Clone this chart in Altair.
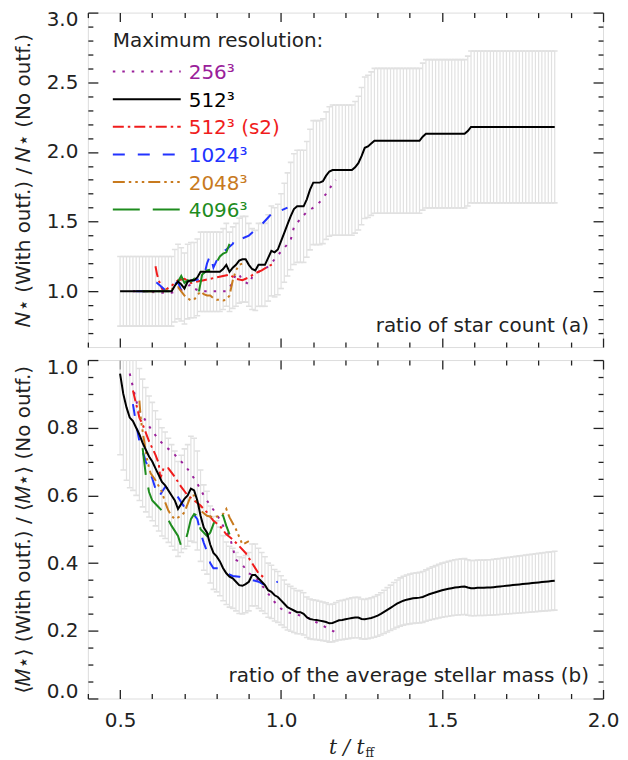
import altair as alt
import numpy as np
import pandas as pd

FONT = "DejaVu Sans"
INK = "#222222"

# ---------------- data ----------------
# sample times of the 512^3 run (also the positions of the grey error bars)
T_GRID = np.round(np.arange(0.50, 1.855, 0.01), 2)

TOP_BLACK = [
    1.00, 1.00, 1.00, 1.00, 1.00, 1.00, 1.00, 1.00, 1.00, 1.00,
    1.00, 1.00, 1.00, 1.00, 1.00, 1.00, 1.00, 1.04, 1.07, 1.05,
    1.02, 1.07, 1.08, 1.08, 1.10, 1.14, 1.14, 1.14, 1.14, 1.14,
    1.14, 1.14, 1.16, 1.19, 1.14, 1.17, 1.19, 1.22, 1.23, 1.23,
    1.19, 1.16, 1.15, 1.19, 1.19, 1.19, 1.24, 1.29, 1.28, 1.30,
    1.36, 1.42, 1.48, 1.54, 1.59, 1.61, 1.61, 1.61, 1.66, 1.73,
    1.78, 1.78, 1.78, 1.79, 1.83, 1.86, 1.87, 1.87, 1.87, 1.87,
    1.87, 1.87, 1.87, 1.89, 1.92, 1.97, 2.03, 2.04, 2.06, 2.08,
    2.08, 2.08, 2.08, 2.08, 2.08, 2.08, 2.08, 2.08, 2.08, 2.08,
    2.08, 2.08, 2.08, 2.08, 2.11, 2.13, 2.13, 2.13, 2.13, 2.13,
    2.13, 2.13, 2.13, 2.13, 2.13, 2.13, 2.13, 2.13, 2.15, 2.18,
    2.18, 2.18, 2.18, 2.18, 2.18, 2.18, 2.18, 2.18, 2.18, 2.18,
    2.18, 2.18, 2.18, 2.18, 2.18, 2.18, 2.18, 2.18, 2.18, 2.18,
    2.18, 2.18, 2.18, 2.18, 2.18, 2.18,
]

BOT_BLACK = [
    0.96, 0.90, 0.86, 0.83, 0.82, 0.80, 0.78, 0.755, 0.735, 0.715,
    0.70, 0.68, 0.66, 0.64, 0.63, 0.615, 0.60, 0.585, 0.56, 0.575,
    0.59, 0.60, 0.62, 0.615, 0.585, 0.54, 0.505, 0.49, 0.455, 0.43,
    0.42, 0.405, 0.385, 0.37, 0.36, 0.355, 0.345, 0.335, 0.333, 0.338,
    0.345, 0.365, 0.365, 0.355, 0.345, 0.335, 0.32, 0.315, 0.305, 0.30,
    0.29, 0.28, 0.27, 0.265, 0.26, 0.255, 0.255, 0.25, 0.24, 0.235,
    0.233, 0.232, 0.23, 0.228, 0.226, 0.222, 0.223, 0.227, 0.231, 0.232,
    0.234, 0.236, 0.238, 0.239, 0.239, 0.235, 0.234, 0.236, 0.238, 0.241,
    0.245, 0.25, 0.256, 0.262, 0.268, 0.274, 0.28, 0.285, 0.289, 0.292,
    0.294, 0.296, 0.297, 0.298, 0.300, 0.304, 0.308, 0.311, 0.314, 0.317,
    0.320, 0.322, 0.324, 0.326, 0.328, 0.329, 0.330, 0.331, 0.328, 0.326,
    0.326, 0.327, 0.327, 0.327, 0.328, 0.328, 0.329, 0.330, 0.331, 0.332,
    0.333, 0.334, 0.335, 0.336, 0.337, 0.338, 0.339, 0.340, 0.341, 0.342,
    0.343, 0.344, 0.345, 0.346, 0.347, 0.348,
]

# --- panel (a): other resolutions
TOP_256_T = [0.54, 0.58, 0.62, 0.66, 0.68, 0.70, 0.72, 0.73, 0.75, 0.78, 0.80, 0.83, 0.85,
             0.86, 0.87, 0.88, 0.90, 0.91, 0.93, 0.95, 0.97, 0.99, 1.01, 1.03, 1.04, 1.06,
             1.08, 1.10, 1.12, 1.14, 1.16, 1.17]
TOP_256_V = [1.00, 1.00, 0.99, 0.99, 1.00, 1.02, 1.05, 1.02, 1.00, 1.00, 1.00, 1.00, 1.06,
             1.13, 1.12, 1.08, 1.05, 1.10, 1.14, 1.16, 1.20, 1.26, 1.31, 1.37, 1.46, 1.52,
             1.57, 1.60, 1.64, 1.70, 1.77, 1.80]

TOP_S2_T = [0.61, 0.615, 0.62, 0.63, 0.635, 0.66, 0.67, 0.68, 0.70, 0.72, 0.74, 0.76, 0.78,
            0.80, 0.82, 0.84, 0.86, 0.88, 0.90, 0.92, 0.94, 0.96, 0.98]
TOP_S2_V = [1.18, 1.12, 1.08, 1.02, 1.00, 1.04, 1.06, 1.08, 1.09, 1.06, 1.07, 1.08, 1.09,
            1.10, 1.11, 1.12, 1.09, 1.08, 1.10, 1.13, 1.15, 1.18, 1.20]

TOP_1024_T = [0.55, 0.58, 0.60, 0.615, 0.625, 0.64, 0.65, 0.67, 0.68, 0.69, 0.70, 0.71, 0.73,
              0.75, 0.76, 0.77, 0.78, 0.79, 0.80, 0.81, 0.83, 0.85, 0.86, 0.88, 0.90, 0.92,
              0.94, 0.96, 0.98, 1.00, 1.02]
TOP_1024_V = [1.00, 1.00, 1.00, 1.06, 1.04, 1.01, 1.00, 1.05, 1.07, 1.00, 1.04, 1.07, 1.08,
              1.09, 1.10, 1.20, 1.26, 1.17, 1.22, 1.27, 1.30, 1.34, 1.39, 1.38, 1.40, 1.44,
              1.48, 1.53, 1.58, 1.58, 1.60]

TOP_2048_T = [0.57, 0.62, 0.665, 0.68, 0.69, 0.70, 0.71, 0.72, 0.73, 0.74, 0.75, 0.76, 0.77,
              0.78, 0.79, 0.80, 0.81, 0.82, 0.83, 0.84, 0.85, 0.86, 0.87, 0.88]
TOP_2048_V = [1.00, 1.00, 1.02, 1.03, 1.00, 0.97, 0.95, 0.935, 0.94, 0.97, 1.00, 0.98, 0.97,
              0.97, 0.95, 0.94, 0.94, 0.935, 0.94, 0.97, 1.08, 1.15, 1.19, 1.20]

TOP_4096_T = [0.57, 0.60, 0.63, 0.66, 0.67, 0.68, 0.69, 0.70, 0.71, 0.72, 0.73, 0.74, 0.745,
              0.755, 0.77, 0.79, 0.80, 0.81, 0.82, 0.83, 0.84]
TOP_4096_V = [1.00, 1.00, 1.00, 1.00, 1.03, 1.07, 1.11, 1.06, 1.08, 1.07, 1.09, 1.04, 1.00,
              1.12, 1.15, 1.16, 1.21, 1.25, 1.27, 1.28, 1.34]

# --- panel (b): other resolutions
BOT_256_T = [0.53, 0.54, 0.55, 0.56, 0.58, 0.60, 0.62, 0.64, 0.66, 0.68, 0.70, 0.72, 0.74,
             0.76, 0.78, 0.80, 0.82, 0.84, 0.85, 0.86, 0.88, 0.90, 0.92, 0.94, 0.96, 0.98,
             1.00, 1.02, 1.04, 1.06, 1.08, 1.10, 1.12, 1.14, 1.16, 1.18]
BOT_256_V = [0.96, 0.92, 0.88, 0.85, 0.82, 0.79, 0.765, 0.745, 0.73, 0.71, 0.69, 0.665, 0.635,
             0.60, 0.57, 0.545, 0.51, 0.48, 0.445, 0.41, 0.395, 0.37, 0.36, 0.335, 0.31, 0.285,
             0.265, 0.255, 0.25, 0.245, 0.24, 0.23, 0.22, 0.21, 0.20, 0.19]

BOT_S2_T = [0.54, 0.55, 0.56, 0.57, 0.59, 0.61, 0.62, 0.625, 0.635, 0.65, 0.67, 0.69, 0.71,
            0.73, 0.75, 0.77, 0.79, 0.81, 0.83, 0.85, 0.87, 0.89, 0.91, 0.93, 0.95]
BOT_S2_V = [0.91, 0.87, 0.83, 0.81, 0.76, 0.72, 0.695, 0.65, 0.68, 0.68, 0.655, 0.625, 0.60,
            0.585, 0.57, 0.55, 0.525, 0.51, 0.485, 0.47, 0.45, 0.43, 0.40, 0.37, 0.355]

BOT_1024_T = [0.54, 0.55, 0.56, 0.57, 0.58, 0.59, 0.60, 0.61, 0.62, 0.63, 0.64, 0.66, 0.68,
              0.70, 0.72, 0.74, 0.75, 0.76, 0.77, 0.78, 0.79, 0.81, 0.83, 0.85, 0.87, 0.89,
              0.91, 0.93, 0.95, 0.97, 0.99]
BOT_1024_V = [0.87, 0.81, 0.76, 0.73, 0.70, 0.675, 0.65, 0.62, 0.595, 0.61, 0.625, 0.615, 0.595,
              0.565, 0.555, 0.53, 0.49, 0.46, 0.435, 0.40, 0.385, 0.385, 0.37, 0.362, 0.36, 0.356,
              0.35, 0.345, 0.335, 0.34, 0.345]

BOT_2048_T = [0.56, 0.565, 0.575, 0.585, 0.595, 0.61, 0.63, 0.64, 0.65, 0.66, 0.67, 0.69, 0.70,
              0.72, 0.73, 0.74, 0.75, 0.77, 0.79, 0.81, 0.82, 0.83, 0.84, 0.86, 0.88, 0.90]
BOT_2048_V = [0.88, 0.82, 0.76, 0.70, 0.665, 0.645, 0.61, 0.58, 0.555, 0.54, 0.53, 0.54, 0.55,
              0.60, 0.60, 0.58, 0.555, 0.54, 0.535, 0.54, 0.545, 0.56, 0.535, 0.50, 0.455, 0.465]

BOT_4096_T = [0.57, 0.575, 0.58, 0.59, 0.60, 0.62, 0.64, 0.66, 0.68, 0.69, 0.70, 0.71, 0.72,
              0.73, 0.74, 0.75, 0.77, 0.78, 0.79, 0.80, 0.81, 0.82, 0.83, 0.84]
BOT_4096_V = [0.74, 0.70, 0.66, 0.61, 0.585, 0.565, 0.545, 0.51, 0.48, 0.45, 0.455, 0.49, 0.53,
              0.545, 0.54, 0.50, 0.48, 0.49, 0.515, 0.54, 0.545, 0.54, 0.51, 0.485]

ERR_FRAC = 0.25   # relative half-width of the grey error bars

LEGEND_LABELS = ["256³", "512³", "512³ (s2)", "1024³", "2048³", "4096³"]
COLORS = ["#9A209A", "#000000", "#F01C1C", "#2233FF", "#C87A1E", "#1E8C1E"]
DASHES = [[2.5, 7], [1, 0], [11, 4, 2.5, 4], [12, 13], [12, 4, 2.5, 4, 2.5, 4, 2.5, 4], [27, 13]]

X_DOMAIN = [0.4, 2.0]
X_MAJOR = [0.5, 1.0, 1.5, 2.0]
X_MINOR = [0.4, 0.6, 0.7, 0.8, 0.9, 1.1, 1.2, 1.3, 1.4, 1.6, 1.7, 1.8, 1.9]

W = 516
H_TOP = 335
H_BOT = 339


def tick_axis(orient, values, size, offset):
    return alt.Axis(orient=orient, values=values, labels=False, domain=False, grid=False,
                    ticks=True, tickSize=size, tickColor=INK, tickWidth=1.3,
                    offset=offset, title=None, minExtent=0, maxExtent=0)


def label_axis_y(values, title):
    return alt.Axis(orient="left", values=values, format=".1f", ticks=False, domain=False,
                    grid=False, labelFont=FONT, labelFontSize=20, labelColor=INK,
                    labelPadding=10, labelFlush=True, labelFlushOffset=3,
                    minExtent=42, maxExtent=42,
                    title=title, titleFont=FONT, titleFontSize=20, titleFontWeight="normal",
                    titleColor=INK, titlePadding=12)


def label_axis_x():
    return alt.Axis(orient="bottom", values=X_MAJOR, format=".1f", ticks=False, domain=False,
                    grid=False, labelFont=FONT, labelFontSize=20, labelColor=INK,
                    labelPadding=12, labelFlush=False, labelOverlap=False, title=None)


def text_layer(label, x, y, color=INK, size=20, align="left", baseline="alphabetic",
               font=FONT, style="normal"):
    return alt.Chart(pd.DataFrame({"label": [label]})).mark_text(
        align=align, baseline=baseline, font=font, fontSize=size, color=color,
        fontStyle=style,
    ).encode(x=alt.value(x), y=alt.value(y), text="label:N")


def panel(black, series, y_domain, y_major, y_minor, H, y_title, note, note_dy, bottom):
    xs = alt.Scale(domain=X_DOMAIN, nice=False, zero=False)
    ys = alt.Scale(domain=y_domain, nice=False, zero=False)

    eb = pd.DataFrame({"t": T_GRID, "v": black})
    eb["lo"] = eb["v"] * (1 - ERR_FRAC)
    eb["hi"] = eb["v"] * (1 + ERR_FRAC)
    eb["xl"] = eb["t"] - 0.009
    eb["xr"] = eb["t"] + 0.009

    grey = "#E1E1E1"
    x_lab = label_axis_x() if bottom else tick_axis("bottom", X_MAJOR, 0, 0)

    bars = alt.Chart(eb).mark_rule(color=grey, strokeWidth=1.2, clip=True).encode(
        x=alt.X("t:Q", scale=xs, axis=x_lab),
        y=alt.Y("lo:Q", scale=ys, axis=label_axis_y(y_major, y_title)),
        y2="hi:Q",
    )
    cap_lo = alt.Chart(eb).mark_rule(color=grey, strokeWidth=1.6, clip=True).encode(
        x=alt.X("xl:Q", scale=xs, axis=tick_axis("top", X_MAJOR, 9, -H)),
        x2="xr:Q",
        y=alt.Y("lo:Q", scale=ys, axis=tick_axis("right", y_major, 10, -W)),
    )
    cap_hi = alt.Chart(eb).mark_rule(color=grey, strokeWidth=1.6, clip=True).encode(
        x=alt.X("xl:Q", scale=xs, axis=tick_axis("top", X_MINOR, 5, -H)),
        x2="xr:Q",
        y=alt.Y("hi:Q", scale=ys, axis=tick_axis("right", y_minor, 5, -W)),
    )

    layers = [bars, cap_lo, cap_hi]
    axis_slots = [
        (tick_axis("bottom", X_MAJOR, 9, -H), tick_axis("left", y_major, 10, -W)),
        (tick_axis("bottom", X_MINOR, 5, -H), tick_axis("left", y_minor, 5, -W)),
    ]
    # draw order: 256, 512 (s2), 1024, 2048, 4096, then 512 on top
    order = [0, 2, 3, 4, 5, 1]
    for k, idx in enumerate(order):
        if idx == 1:
            df = pd.DataFrame({"t": T_GRID, "v": black})
        else:
            tt, vv = series[idx]
            df = pd.DataFrame({"t": tt, "v": vv})
        if k < 2:
            xa, ya = axis_slots[k]
        else:
            xa, ya = None, None
        mk = dict(color=COLORS[idx], strokeWidth=2.0, clip=True)
        if idx != 1:
            mk["strokeDash"] = DASHES[idx]
        xenc = alt.X("t:Q", scale=xs, axis=xa)
        yenc = alt.Y("v:Q", scale=ys, axis=ya)
        layers.append(alt.Chart(df).mark_line(**mk).encode(x=xenc, y=yenc))

    layers.append(text_layer(note, W - 14, H - note_dy, align="right"))

    if not bottom:
        layers.append(text_layer("Maximum resolution:", 25, 34))
        rows = [59, 86.7, 114.3, 142, 169.6, 197.2]
        for i, lab in enumerate(LEGEND_LABELS):
            rmk = dict(color=COLORS[i], strokeWidth=2.0)
            if i != 1:
                rmk["strokeDash"] = DASHES[i]
            layers.append(
                alt.Chart(pd.DataFrame({"label": [lab]})).mark_rule(**rmk).encode(
                    x=alt.value(25), x2=alt.value(93), y=alt.value(rows[i])
                )
            )
            layers.append(text_layer(lab, 101, rows[i] + 7.6, color=COLORS[i]))
    else:
        layers.append(text_layer("t / t", 277, H + 56, font="DejaVu Serif", style="italic",
                                 align="right"))
        layers.append(text_layer("ff", 278, H + 59, font="DejaVu Serif", size=12))

    return alt.layer(*layers).resolve_axis(x="independent", y="independent").properties(
        width=W, height=H
    )


top = panel(
    TOP_BLACK,
    {0: (TOP_256_T, TOP_256_V), 2: (TOP_S2_T, TOP_S2_V), 3: (TOP_1024_T, TOP_1024_V),
     4: (TOP_2048_T, TOP_2048_V), 5: (TOP_4096_T, TOP_4096_V)},
    [0.6, 3.0], [1.0, 1.5, 2.0, 2.5, 3.0],
    [0.7, 0.8, 0.9, 1.1, 1.2, 1.3, 1.4, 1.6, 1.7, 1.8, 1.9, 2.1, 2.2, 2.3, 2.4, 2.6, 2.7, 2.8, 2.9],
    H_TOP, "𝑁⋆ (With outf.) / 𝑁⋆ (No outf.)", "ratio of star count (a)", 15, False,
)
bot = panel(
    BOT_BLACK,
    {0: (BOT_256_T, BOT_256_V), 2: (BOT_S2_T, BOT_S2_V), 3: (BOT_1024_T, BOT_1024_V),
     4: (BOT_2048_T, BOT_2048_V), 5: (BOT_4096_T, BOT_4096_V)},
    [0.0, 1.0], [0.0, 0.2, 0.4, 0.6, 0.8, 1.0],
    [0.05, 0.1, 0.15, 0.25, 0.3, 0.35, 0.45, 0.5, 0.55, 0.65, 0.7, 0.75, 0.85, 0.9, 0.95],
    H_BOT, "⟨𝑀⋆⟩ (With outf.) / ⟨𝑀⋆⟩ (No outf.)", "ratio of the average stellar mass (b)",
    17, True,
)

chart = alt.vconcat(top, bot, spacing=7).properties(
    padding={"left": 5, "top": 0, "right": 0, "bottom": 2}
).configure_view(stroke=INK, strokeWidth=1.5).configure(background="white")

chart.save("out.html", embed_options={"renderer": "svg", "actions": False})
